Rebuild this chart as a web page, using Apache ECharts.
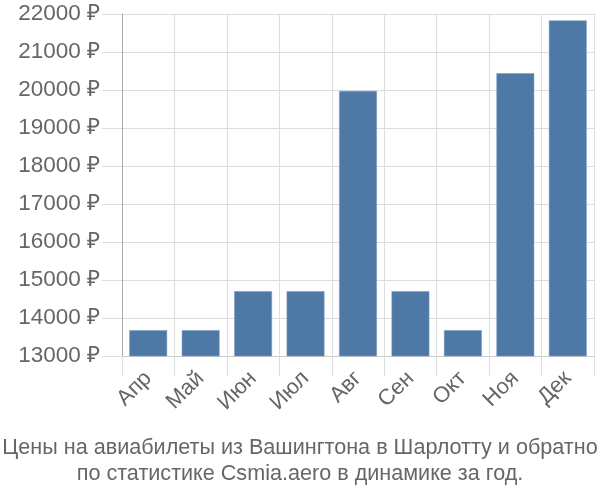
<!DOCTYPE html>
<html><head><meta charset="utf-8">
<script src="https://cdn.jsdelivr.net/npm/echarts@6/dist/echarts.min.js"></script>
<style>html,body{margin:0;padding:0;background:#fff}#c{width:600px;height:500px}</style>
</head><body><div id="c"></div>
<script>
var categories = ['Апр','Май','Июн','Июл','Авг','Сен','Окт','Ноя','Дек'];
var prices = [13680, 13680, 14705, 14705, 19975, 14705, 13680, 20440, 21830];
var titleLines = ['Цены на авиабилеты из Вашингтона в Шарлотту и обратно', 'по статистике Csmia.aero в динамике за год.'];
var yMin = 13000, yMax = 22000, yStep = 1000;

var chart = echarts.init(document.getElementById('c'), null, {renderer:'canvas'});
chart.setOption({
  animation: false,
  textStyle: {fontFamily: 'Liberation Sans, Arial, sans-serif'},
  title: {
    text: titleLines.join('\n'),
    left: 'center', top: 430,
    textStyle: {fontSize: 21.6, fontWeight: 'normal', color: '#666', lineHeight: 26, fontFamily: 'Liberation Sans, Arial, sans-serif'}
  },
  grid: {left: 122, right: 6, top: 14, bottom: 144, containLabel: false},
  xAxis: {
    type: 'category', data: categories, boundaryGap: true,
    axisLine: {show: true, lineStyle: {color: '#ccc', width: 1}},
    axisTick: {show: true, length: 20, interval: 0, alignWithLabel: false, lineStyle: {color: '#ddd'}},
    splitLine: {show: true, interval: 0, lineStyle: {color: '#ddd'}},
    axisLabel: {rotate: 45, interval: 0, margin: 19, fontSize: 22, color: '#666'}
  },
  yAxis: {
    type: 'value', min: yMin, max: yMax, interval: yStep,
    axisLine: {show: true, lineStyle: {color: '#aaa', width: 1}},
    axisTick: {show: true, length: 20, lineStyle: {color: '#ddd'}},
    splitLine: {show: true, lineStyle: {color: '#ddd'}},
    axisLabel: {formatter: function(v){ return v + ' ₽'; }, fontSize: 22.5, color: '#666', margin: 22}
  },
  series: [{
    type: 'bar', data: prices, barWidth: '72%',
    itemStyle: {color: '#4e79a7', borderColor: '#7596bd', borderWidth: 0.5}
  }]
});
</script></body></html>
